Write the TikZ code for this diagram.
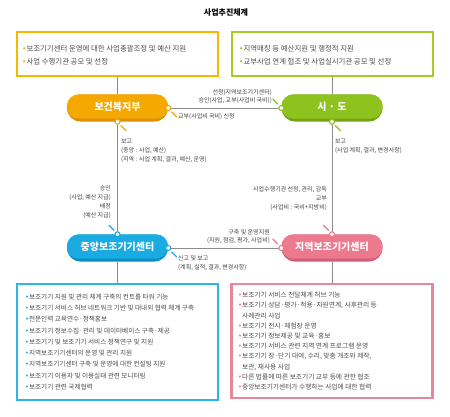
\documentclass[tikz,border=0pt]{standalone}
\usepackage{fontspec}
\setmainfont{Noto Sans CJK KR}
\newfontfamily\dvf{DejaVu Sans}
\usetikzlibrary{calc}
\definecolor{orng}{HTML}{F5A800}
\definecolor{orngd}{HTML}{DC8E00}
\definecolor{orngb}{HTML}{F8B800}
\definecolor{grn}{HTML}{8DC21F}
\definecolor{grnd}{HTML}{73A312}
\definecolor{grnb}{HTML}{A6CB22}
\definecolor{cyn}{HTML}{1AABE3}
\definecolor{cynd}{HTML}{0B8CC2}
\definecolor{cynb}{HTML}{2CB5E8}
\definecolor{pnk}{HTML}{EC7A8E}
\definecolor{pnkd}{HTML}{D35D73}
\definecolor{pnkb}{HTML}{E9879A}
\definecolor{lineg}{HTML}{8C8C8C}
\definecolor{txtg}{HTML}{4D4D4D}
\definecolor{lblg}{HTML}{444444}
\newcommand\bu[1]{\textcolor{#1}{\dvf •}}
\newcommand\nb{\phantom{\dvf •}}
\begin{document}
\begin{tikzpicture}[x=1pt,y=-1pt,
  conn/.style={draw=lineg, line width=0.9pt},
  pillbase/.style={rounded corners=13.5pt, minimum width=101pt, minimum height=27pt, inner sep=0pt},
  pilltxt/.style={text=white, font=\fontsize{10}{12}\selectfont\bfseries, inner sep=0pt},
  topbox/.style={line width=2pt, minimum width=201pt, minimum height=44pt, inner sep=0pt, fill=white},
  botbox/.style={line width=2.4pt, minimum width=201pt, inner sep=0pt, fill=white},
  toptxt/.style={anchor=north west, align=left, inner sep=0pt, text=txtg, font=\fontsize{7.4}{12.5}\selectfont},
  bottxt/.style={anchor=north west, align=left, inner sep=0pt, text=txtg, font=\fontsize{6.6}{11.3}\selectfont},
  lbl/.style={inner sep=0pt, text=lblg, font=\fontsize{6}{9}\selectfont},
  lblr/.style={lbl, anchor=north east, align=right},
  lbll/.style={lbl, anchor=north west, align=left},
  endring/.style={fill=white, line width=1.1pt},
  mytick/.style={line width=1.3pt, line cap=round},
]
\useasboundingbox (0,0) rectangle (450,416);
\fill[white] (0,0) rectangle (450,416);

\node[font=\fontsize{8}{10}\selectfont\bfseries, inner sep=0pt] (title) at (226,13) {사업추진체계};

% boxes
\node[topbox, draw=orngb] (tl) at (117.5,54) {};
\node[topbox, draw=grnb] (tr) at (332,54) {};
\node[botbox, draw=cynb, minimum height=116pt] (bl) at (117.5,342) {};
\node[botbox, draw=pnkb, minimum height=114pt] (br) at (332,341) {};

% pills
\node[pillbase, fill=orngd] (mohw) at (117.5,108) {};
\fill[orng, rounded corners=12pt] (mohw.north west) rectangle ($(mohw.south east)+(0,-3)$);
\node[pilltxt] (mohwT) at ($(mohw.center)+(0,-1.5)$) {보건복지부};

\node[pillbase, fill=grnd] (sido) at (332,108) {};
\fill[grn, rounded corners=12pt] (sido.north west) rectangle ($(sido.south east)+(0,-3)$);
\node[pilltxt] (sidoT) at ($(sido.center)+(0,-1.5)$) {시 · 도};

\node[pillbase, fill=cynd] (central) at (117.5,248) {};
\fill[cyn, rounded corners=12pt] (central.north west) rectangle ($(central.south east)+(0,-3)$);
\node[pilltxt] (centralT) at ($(central.center)+(0,-1.5)$) {중앙보조기기센터};

\node[pillbase, fill=pnkd] (regional) at (332,248) {};
\fill[pnk, rounded corners=12pt] (regional.north west) rectangle ($(regional.south east)+(0,-3)$);
\node[pilltxt] (regionalT) at ($(regional.center)+(0,-1.5)$) {지역보조기기센터};

% connectors
\draw[conn] (tl.south) -- (mohw.north);
\draw[conn] (tr.south) -- (sido.north);
\draw[conn] (mohw.east) -- (sido.west);
\draw[conn] (mohw.south) -- (central.north);
\draw[conn] (sido.south) -- (regional.north);
\draw[conn] (central.east) -- (regional.west);
\draw[conn] (central.south) -- (bl.north);
\draw[conn] (regional.south) -- (br.north);

% rings and ticks
\draw[endring, draw=orng] (mohw.east) circle (2.5pt);
\draw[endring, draw=orng] (mohw.south) circle (2.5pt);
\draw[endring, draw=grn] (sido.west) circle (2.5pt);
\draw[endring, draw=grn] (sido.south) circle (2.5pt);
\draw[endring, draw=cyn] (central.north) circle (2.5pt);
\draw[endring, draw=cyn] (central.east) circle (2.5pt);
\draw[endring, draw=pnk] (regional.north) circle (2.5pt);
\draw[endring, draw=pnk] (regional.west) circle (2.5pt);

\draw[mytick, orng] ([shift={(3.5,4)}]mohw.east) -- ++(5,5);
\draw[mytick, orng] ([shift={(3.5,4)}]mohw.south) -- ++(5,5);
\draw[mytick, grn] ([shift={(-3.5,-4)}]sido.west) -- ++(-5,-5);
\draw[mytick, grn] ([shift={(3.5,4)}]sido.south) -- ++(5,5);
\draw[mytick, cyn] ([shift={(-3.5,-4)}]central.north) -- ++(-5,-5);
\draw[mytick, cyn] ([shift={(3.5,4)}]central.east) -- ++(5,5);
\draw[mytick, pnk] ([shift={(-3.5,-4)}]regional.north) -- ++(-5,-5);
\draw[mytick, pnk] ([shift={(-3.5,-4)}]regional.west) -- ++(-5,-5);

% box texts
\node[toptxt] (tlT) at (22,45.5) {\bu{orng}보조기기센터 운영에 대한 사업총괄조정 및 예산 지원\\\bu{orng}사업 수행기관 공모 및 선정};
\node[toptxt] (trT) at (239,45.5) {\bu{grn}지역매칭 등 예산지원 및 행정적 지원\\\bu{grn}교부사업 연계 협조 및 사업실시기관 공모 및 선정};

\node[bottxt] (blT) at (25,293.5) {\bu{cyn}보조기기 지원 및 관리 체계 구축의 컨트롤 타워 기능\\
\bu{cyn}보조기기 서비스 허브 네트워크 기반 및 대내외 협력 체계 구축\\
\bu{cyn}전문인력 교육연수·정책홍보\\
\bu{cyn}보조기기 정보수집·관리 및 데이터베이스 구축·제공\\
\bu{cyn}보조기기 및 보조기기 서비스 정책연구 및 지원\\
\bu{cyn}지역보조기기센터의 운영 및 관리 지원\\
\bu{cyn}지역보조기기센터 구축 및 운영에 대한 컨설팅 지원\\
\bu{cyn}보조기기 이용자 및 이용실태 관련 모니터링\\
\bu{cyn}보조기기 관련 국제협력};

\node[bottxt, font=\fontsize{6.7}{10.2}\selectfont] (brT) at (238,292) {\bu{pnk}보조기기 서비스 전달체계 허브 기능\\
\bu{pnk}보조기기 상담·평가·적용·자원연계, 사후관리 등\\
\nb 사례관리 사업\\
\bu{pnk}보조기기 전시·체험장 운영\\
\bu{pnk}보조기기 정보제공 및 교육·홍보\\
\bu{pnk}보조기기 서비스 관련 지역 연계 프로그램 운영\\
\bu{pnk}보조기기 장·단기 대여, 수리, 맞춤 개조와 제작,\\
\nb 보관, 재사용 사업\\
\bu{pnk}다른 법률에 따른 보조기기 교부 등에 관한 협조\\
\bu{pnk}중앙보조기기센터가 수행하는 사업에 대한 협력};

% connector labels
\node[lblr, font=\fontsize{6}{8}\selectfont] (lA) at (272,89.2) {선정(지역보조기기센터)\\승인(사업, 교부(사업비 국비))};
\node[lbll] (lB) at (178,113.2) {교부(사업비 국비) 신청};
\node[lbll] (lC) at (121,139.2) {보고\\(중앙 : 사업, 예산)\\(지역 : 사업 계획, 결과, 예산, 운영)};
\node[lblr] (lD) at (111,185.2) {승인\\(사업, 예산 지급)\\배정\\(예산 지급)};
\node[lbll] (lE) at (335,139.2) {보고\\(사업 계획, 결과, 변경사항)};
\node[lblr] (lF) at (327,186.2) {사업수행기관 선정, 관리, 감독\\교부\\(사업비 : 국비+지방비)};
\node[lblr, font=\fontsize{6}{8}\selectfont] (lG) at (270,229.2) {구축 및 운영지원\\(지원, 점검, 평가, 사업비)};
\node[lbll] (lH) at (178,255.2) {신고 및 보고\\(계획, 실적, 결과, 변경사항)};
\end{tikzpicture}
\end{document}
